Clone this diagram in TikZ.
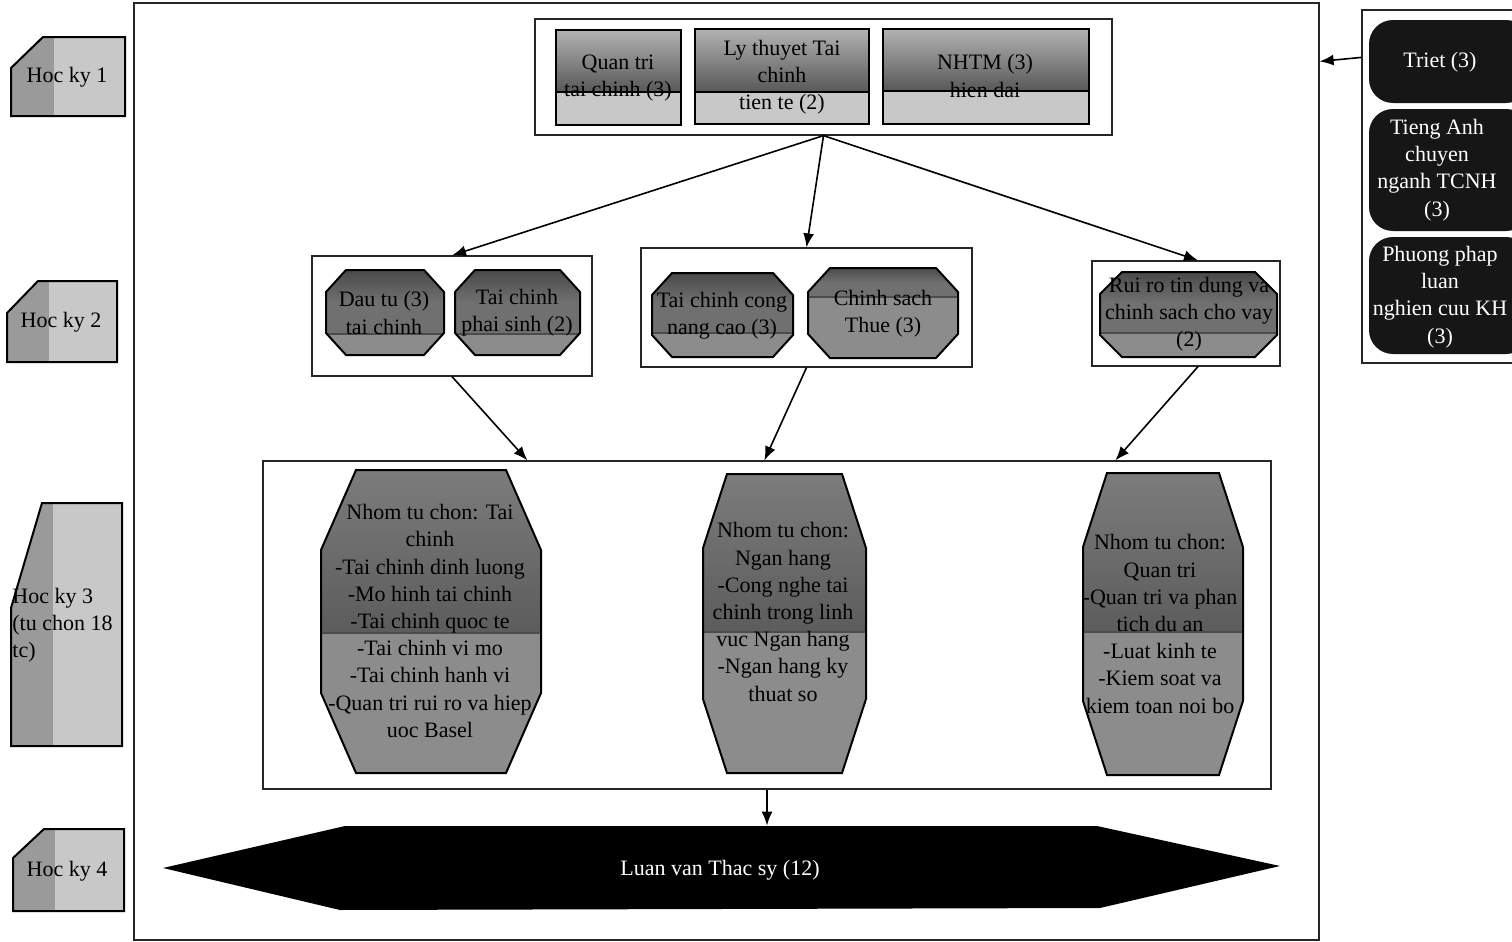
\documentclass[tikz,border=0pt]{standalone}
\usepackage{fontspec}
\setmainfont{Liberation Serif}
\usetikzlibrary{arrows.meta,fit,calc}
\definecolor{hkdark}{HTML}{9A9A9A}
\definecolor{hklight}{HTML}{C8C8C8}
\definecolor{tbtop}{HTML}{B2B2B2}
\definecolor{tbmid}{HTML}{585858}
\definecolor{tblight}{HTML}{C8C8C8}
\definecolor{octstrip}{HTML}{4A4A4A}
\definecolor{octdark}{HTML}{707070}
\definecolor{octlight}{HTML}{8C8C8C}
\definecolor{oct3top}{HTML}{7C7C7C}
\definecolor{oct3mid}{HTML}{5C5C5C}
\definecolor{rboxc}{HTML}{161616}
\tikzset{
  shapeline/.style={draw=black,line width=1pt},
  grp/.style={draw=black!85,line width=0.6pt,inner sep=0pt},
  txt/.style={align=center,inner sep=0pt,text=black},
  wtxt/.style={align=center,inner sep=0pt,text=white},
  arr/.style={draw=black,line width=0.8pt,-{Latex[length=7pt,width=5.5pt]}},
  row2top/.style={top color=octstrip,bottom color=octdark,middle color=octdark},
  row3top/.style={top color=oct3top,bottom color=oct3mid},
}
% Hoc ky label shape: x1 y1 x2 y2 chamferx chamfery
\newcommand\hockyshape[6]{%
  \begin{scope}
    \clip ({#1+#5},#2) -- (#3,#2) -- (#3,#4) -- (#1,#4) -- (#1,{#2+#6}) -- cycle;
    \fill[hklight] (#1,#2) rectangle (#3,#4);
    \fill[hkdark] (#1,#2) rectangle ({#1+0.38*(#3-#1)},#4);
  \end{scope}
  \draw[shapeline] ({#1+#5},#2) -- (#3,#2) -- (#3,#4) -- (#1,#4) -- (#1,{#2+#6}) -- cycle;}
% octagon: x1 y1 x2 y2 cx cy split topstyle
\newcommand\octshape[8]{%
  \begin{scope}
    \clip ({#1+#5},#2) -- ({#3-#5},#2) -- (#3,{#2+#6}) -- (#3,{#4-#6}) -- ({#3-#5},#4) -- ({#1+#5},#4) -- (#1,{#4-#6}) -- (#1,{#2+#6}) -- cycle;
    \fill[octlight] (#1,#2) rectangle (#3,#4);
    \path[#8] (#1,#2) rectangle (#3,#7);
    \draw[black!70,line width=0.6pt] (#1,#7) -- (#3,#7);
  \end{scope}
  \draw[shapeline] ({#1+#5},#2) -- ({#3-#5},#2) -- (#3,{#2+#6}) -- (#3,{#4-#6}) -- ({#3-#5},#4) -- ({#1+#5},#4) -- (#1,{#4-#6}) -- (#1,{#2+#6}) -- cycle;}
% top box: x1 y1 x2 y2 split
\newcommand\topbox[5]{%
  \fill[tblight] (#1,#2) rectangle (#3,#4);
  \shade[top color=tbtop,bottom color=tbmid] (#1,#2) rectangle (#3,#5);
  \draw[black,line width=1pt] (#1,#5) -- (#3,#5);
  \draw[shapeline] (#1,#2) rectangle (#3,#4);}
\begin{document}
\begin{tikzpicture}[x=0.5pt,y=-0.5pt,font=\fontsize{11}{13.6}\selectfont]
\useasboundingbox (0,0) rectangle (1512,942);
\fill[white] (0,0) rectangle (1512,942);

% outer frame and groups
\node[grp,fit={(134,3) (1319,940)}] (outer) {};
\node[grp,fit={(535,19) (1112,135)}] (gtop) {};
\node[grp,fit={(1362,10) (1530,363)}] (gright) {};
\node[grp,fit={(312,256) (592,376)}] (gA) {};
\node[grp,fit={(641,248) (972,367)}] (gB) {};
\node[grp,fit={(1092,261) (1280,366)}] (gC) {};
\node[grp,fit={(263,461) (1271,789)}] (gD) {};

% Hoc ky labels
\hockyshape{11}{37}{125}{116}{32}{31}
\node[txt] (hk1) at (67,77) {Hoc ky 1};
\hockyshape{7}{281}{117}{362}{31}{32}
\node[txt] (hk2) at (61,322) {Hoc ky 2};
\hockyshape{11}{503}{122}{746}{31}{105}
\node[txt,anchor=west,align=left] (hk3) at (12,625) {Hoc ky 3\\(tu chon 18\\tc)};
\hockyshape{13}{829}{124}{911}{31}{29}
\node[txt] (hk4) at (67,871) {Hoc ky 4};

% semester 1 boxes
\topbox{556}{30}{681}{125}{92}
\node[txt] (qtc) at (618,78) {Quan tri\\tai chinh (3)};
\topbox{695}{29}{869}{124}{92}
\node[txt] (ltt) at (782,77) {Ly thuyet Tai\\chinh\\tien te (2)};
\topbox{883}{29}{1089}{124}{91}
\node[txt] (nhtm) at (985,76) {NHTM (3)\\hien dai};

% general subjects (right)
\fill[rboxc,rounded corners=12pt] (1369,20) rectangle (1530,103);
\node[wtxt] (triet) at (1440,62) {Triet (3)};
\fill[rboxc,rounded corners=12pt] (1369,109) rectangle (1530,231);
\node[wtxt] (ta) at (1437,170) {Tieng Anh\\chuyen\\nganh TCNH\\(3)};
\fill[rboxc,rounded corners=12pt] (1369,237) rectangle (1530,354);
\node[wtxt] (ppl) at (1440,297) {Phuong phap\\luan\\nghien cuu KH\\(3)};

% semester 2 octagons
\octshape{326}{270}{444}{355}{20}{22}{334}{row2top}
\node[txt] (dt) at (384,313) {Dau tu (3)\\tai chinh};
\octshape{455}{270}{580}{355}{20}{22}{334}{row2top}
\node[txt] (tcps) at (517,313) {Tai chinh\\phai sinh (2)};
\octshape{652}{273}{793}{357}{20}{22}{333}{row2top}
\node[txt] (tcc) at (722,316) {Tai chinh cong\\nang cao (3)};
\octshape{808}{268}{958}{358}{22}{24}{297}{row2top}
\node[txt] (cst) at (883,314) {Chinh sach\\Thue (3)};
\octshape{1100}{272}{1277}{357}{22}{22}{333}{row2top}
\node[txt] (rr) at (1189,314) {Rui ro tin dung va\\chinh sach cho vay\\(2)};

% semester 3 octagons
\octshape{321}{470}{541}{773}{35}{80}{633}{row3top}
\node[txt] (ntc) at (430,621) {Nhom tu chon: Tai\\chinh\\-Tai chinh dinh luong\\-Mo hinh tai chinh\\-Tai chinh quoc te\\-Tai chinh vi mo\\-Tai chinh hanh vi\\-Quan tri rui ro va hiep\\uoc Basel};
\octshape{703}{474}{866}{773}{24}{74}{632}{row3top}
\node[txt] (nnh) at (783,612) {Nhom tu chon:\\Ngan hang\\-Cong nghe tai\\chinh trong linh\\vuc Ngan hang\\-Ngan hang ky\\thuat so};
\octshape{1083}{473}{1243}{775}{24}{74}{632}{row3top}
\node[txt] (nqt) at (1160,624) {Nhom tu chon:\\Quan tri\\-Quan tri va phan\\tich du an\\-Luat kinh te\\-Kiem soat va\\kiem toan noi bo};

% semester 4 thesis
\fill[black] (163,868) -- (345,826) -- (1097,826) -- (1280,866) -- (1100,908) -- (340,910) -- cycle;
\node[inner sep=0pt,fit={(163,826) (1280,910)}] (thesis) {};
\node[wtxt] (thesist) at (720,870) {Luan van Thac sy (12)};

% connectors
\draw[arr] ($(gright.north west)+(0,48)$) -- ($(outer.north east)+(0,59)$);
\draw[arr] (gtop.south) -- (gA.north);
\draw[arr] (gtop.south) -- (gB.north);
\draw[arr] (gtop.south) -- ($(gC.north)+(12,0)$);
\draw[arr] (gA.south) -- ($(gD.north west)+(265,0)$);
\draw[arr] (gB.south) -- ($(gD.north west)+(502,0)$);
\draw[arr] ($(gC.south)+(12,0)$) -- ($(gD.north west)+(853,0)$);
\draw[arr] (gD.south) -- (gD.south |- thesis.north);
\end{tikzpicture}
\end{document}
